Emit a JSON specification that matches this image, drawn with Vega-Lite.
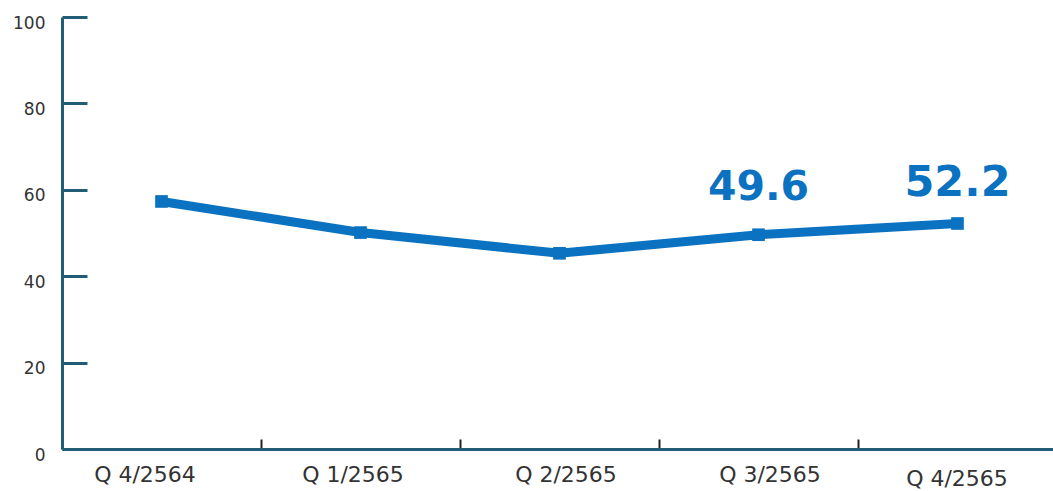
{
  "$schema": "https://vega.github.io/schema/vega-lite/v6.json",
  "autosize": "none",
  "width": 995,
  "height": 432,
  "padding": {"left": 62, "top": 17, "right": 0, "bottom": 42},
  "background": "white",
  "config": {"view": {"stroke": null}},
  "data": {"values": [
    {"q": "Q 4/2564", "v": 57.3, "lab": ""},
    {"q": "Q 1/2565", "v": 50.1, "lab": ""},
    {"q": "Q 2/2565", "v": 45.3, "lab": ""},
    {"q": "Q 3/2565", "v": 49.6, "lab": "49.6"},
    {"q": "Q 4/2565", "v": 52.2, "lab": "52.2"}
  ]},
  "encoding": {
    "x": {"field": "q", "type": "nominal", "sort": null, "bandPosition": 0.5,
      "scale": {"type": "band", "paddingInner": 0, "paddingOuter": 0},
      "axis": {"title": null, "labelAngle": 0, "tickBand": "extent", "tickSize": -10, "tickWidth": 2, "tickColor": "#222222",
        "domainColor": "#215e75", "domainWidth": 3, "labelFont": "DejaVu Sans", "labelFontSize": 22, "labelColor": "#333333",
        "labelOffset": {"condition": [
          {"test": "datum.value == 'Q 4/2564'", "value": -17},
          {"test": "datum.value == 'Q 1/2565'", "value": -8},
          {"test": "datum.value == 'Q 2/2565'", "value": 6},
          {"test": "datum.value == 'Q 3/2565'", "value": 11}
        ], "value": -1},
        "labelPadding": {"condition": {"test": "datum.value == 'Q 4/2565'", "value": 29}, "value": 25}}},
    "y": {"field": "v", "type": "quantitative",
      "scale": {"domain": [0, 100], "nice": false},
      "axis": {"title": null, "values": [0, 20, 40, 60, 80, 100], "grid": false, "tickSize": -25, "tickWidth": 3, "tickColor": "#215e75",
        "domainColor": "#215e75", "domainWidth": 3, "labelFont": "DejaVu Sans", "labelFontSize": 17, "labelColor": "#333333",
        "labelPadding": 42, "labelOffset": 6}}
  },
  "layer": [
    {"mark": {"type": "line", "color": "#0a72c0", "strokeWidth": 9}},
    {"mark": {"type": "point", "shape": "square", "filled": true, "color": "#0a72c0", "size": 160, "opacity": 1}},
    {"mark": {"type": "text", "font": "DejaVu Sans", "fontWeight": "bold", "color": "#0a72c0", "baseline": "alphabetic",
      "fontSize": {"expr": "datum.q == 'Q 4/2565' ? 43 : 41"},
      "dy": {"expr": "datum.q == 'Q 4/2565' ? -27 : -35"}},
     "encoding": {"text": {"field": "lab"}}}
  ]
}
